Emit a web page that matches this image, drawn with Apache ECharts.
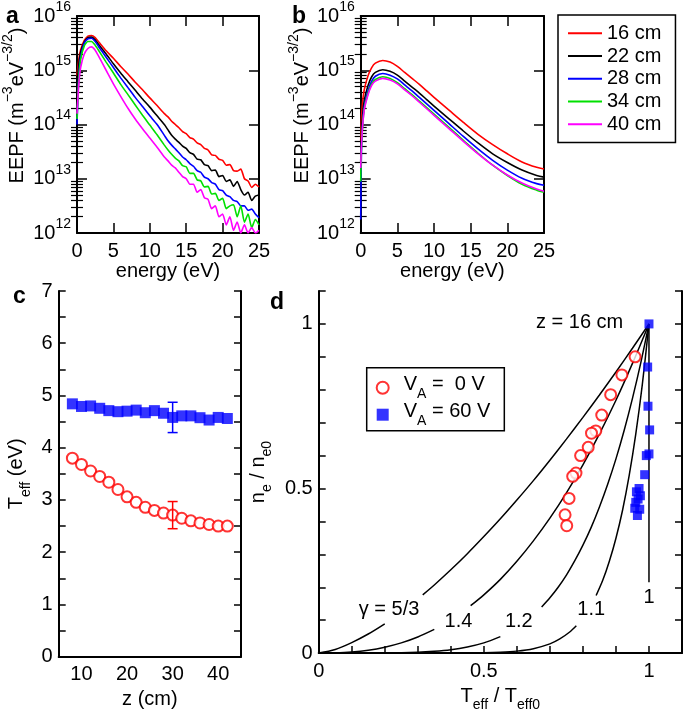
<!DOCTYPE html>
<html><head><meta charset="utf-8">
<script src="https://cdn.jsdelivr.net/npm/echarts@6/dist/echarts.min.js"></script>
<style>html,body{margin:0;padding:0;background:#fff}#c{width:685px;height:717px}</style>
</head><body><div id="c"></div>
<script>
// ---------------- DATA ----------------
const distances = ['16 cm', '22 cm', '28 cm', '34 cm', '40 cm'];
// panel a (V_A = 0 V): energy (eV) and log10 EEPF
const energyA = [0,0.25,0.5,1,1.5,2,2.5,3,4,5,6,7,8,9,10,11,12,12.5,13,13.5,14,14.5,15,15.5,16,16.5,17,17.5,18,18.5,19,19.5,20,20.5,21,21.5,22,22.5,23,23.5,24,24.5,25];
const logEepfA16 = [14.9,15.2,15.38,15.55,15.63,15.64,15.6,15.52,15.36,15.22,15.07,14.93,14.78,14.64,14.49,14.35,14.2,14.14,14.06,14.0,13.94,13.87,13.83,13.76,13.73,13.66,13.63,13.56,13.53,13.44,13.43,13.36,13.34,13.25,13.26,13.15,13.14,13.18,13.0,12.96,12.84,12.9,12.85];
const logEepfA22 = [14.7,15.1,15.33,15.52,15.6,15.61,15.56,15.47,15.3,15.12,14.95,14.79,14.63,14.47,14.32,14.16,14.0,13.9,13.8,13.73,13.67,13.6,13.56,13.48,13.45,13.36,13.35,13.26,13.24,13.15,13.16,13.04,13.06,12.95,12.98,12.86,12.95,12.8,12.7,12.75,12.6,12.68,12.7];
const logEepfA28 = [14.0,14.9,15.25,15.5,15.58,15.59,15.53,15.43,15.24,15.05,14.86,14.68,14.5,14.33,14.16,14.0,13.8,13.7,13.62,13.55,13.48,13.4,13.35,13.28,13.23,13.15,13.12,13.03,13.0,12.93,12.9,12.8,12.78,12.7,12.67,12.6,12.58,12.5,12.5,12.42,12.44,12.35,12.28];
const logEepfA34 = [14.1,14.85,15.2,15.45,15.53,15.53,15.46,15.36,15.15,14.95,14.74,14.55,14.36,14.17,13.99,13.81,13.62,13.53,13.45,13.38,13.33,13.24,13.22,13.1,13.1,12.98,12.96,12.85,12.86,12.72,12.73,12.6,12.64,12.45,12.5,12.52,12.3,12.5,12.2,12.35,12.1,12.25,12.15];
const logEepfA40 = [14.2,14.75,15.05,15.3,15.4,15.43,15.37,15.25,15.0,14.75,14.52,14.3,14.1,13.92,13.75,13.58,13.4,13.33,13.25,13.2,13.12,13.04,13.0,12.9,12.9,12.75,12.8,12.65,12.62,12.45,12.5,12.3,12.35,12.15,12.3,12.05,12.2,12.0,12.15,12.0,12.1,12.0,12.05];
// panel b (V_A = 60 V)
const energyB = [0,0.1,0.25,0.5,1,1.5,2,3,4,5,6,7,8,9,10,12,14,16,18,20,22,24,25];
const logEepfB16 = [13.7,14.1,14.4,14.65,14.9,15.05,15.13,15.18,15.15,15.07,14.96,14.85,14.74,14.62,14.5,14.27,14.04,13.82,13.63,13.46,13.31,13.21,13.18];
const logEepfB22 = [13.3,13.8,14.15,14.45,14.72,14.88,14.96,15.01,14.98,14.91,14.8,14.69,14.58,14.46,14.34,14.11,13.88,13.66,13.46,13.3,13.16,13.06,13.03];
const logEepfB28 = [12.25,13.5,14.0,14.35,14.63,14.8,14.89,14.94,14.91,14.84,14.73,14.62,14.5,14.38,14.26,14.02,13.78,13.55,13.34,13.16,13.01,12.91,12.88];
const logEepfB34 = [12.95,13.55,13.95,14.3,14.58,14.75,14.83,14.88,14.85,14.77,14.66,14.55,14.43,14.31,14.19,13.95,13.71,13.47,13.25,13.06,12.9,12.79,12.75];
const logEepfB40 = [13.2,13.6,13.95,14.28,14.55,14.72,14.8,14.85,14.82,14.75,14.64,14.53,14.41,14.29,14.17,13.93,13.69,13.46,13.25,13.07,12.92,12.81,12.77];
// panel c: T_eff vs z
const zPositions = [8,10,12,14,16,18,20,22,24,26,28,30,32,34,36,38,40,42];
const teffVA0 = [3.80,3.68,3.555,3.45,3.34,3.20,3.06,2.955,2.86,2.80,2.75,2.71,2.65,2.60,2.56,2.53,2.50,2.50];
const teffVA60 = [4.84,4.79,4.80,4.755,4.71,4.69,4.70,4.72,4.67,4.71,4.66,4.58,4.61,4.61,4.575,4.53,4.58,4.56];
const errorZ = 30, errorHalfVA0 = 0.26, errorHalfVA60 = 0.29;
// panel d: normalised density vs normalised temperature (z = 18..42 cm for V_A = 0 V)
const tRatioVA0 = [0.958,0.918,0.884,0.857,0.839,0.826,0.816,0.793,0.779,0.769,0.758,0.746,0.751];
const nRatioVA0 = [0.90,0.845,0.785,0.723,0.675,0.668,0.625,0.60,0.547,0.537,0.47,0.42,0.387];
const tRatioVA60 = [1,0.996,0.997,1.002,1.0,0.992,0.987,0.97,0.962,0.974,0.967,0.96,0.957,0.972,0.965];
const nRatioVA60 = [1,0.869,0.75,0.678,0.605,0.60,0.542,0.50,0.49,0.478,0.468,0.458,0.44,0.437,0.418];
// polytropic curves, each split in two pieces around its label
const g53T1 = [0,0.05,0.1,0.15,0.2],            g53N1 = [0,0.011,0.032,0.058,0.089];
const g53T2 = [0.315,0.35,0.4,0.45,0.5,0.55,0.6,0.65,0.7,0.75,0.8,0.85,0.9,0.95,1.0];
const g53N2 = [0.177,0.207,0.253,0.302,0.354,0.408,0.465,0.524,0.586,0.650,0.716,0.784,0.854,0.926,1.0];
const g14T1 = [0,0.05,0.1,0.15,0.2,0.25,0.3,0.35], g14N1 = [0,0.0006,0.0032,0.0087,0.0179,0.031,0.049,0.072];
const g14T2 = [0.46,0.5,0.55,0.6,0.65,0.7,0.75,0.8,0.85,0.9,0.95,1.0];
const g14N2 = [0.144,0.177,0.224,0.279,0.341,0.410,0.487,0.572,0.666,0.768,0.880,1.0];
const g12T1 = [0,0.1,0.2,0.3,0.35,0.4,0.45,0.5,0.55], g12N1 = [0,0.00001,0.0003,0.0024,0.0053,0.0102,0.0185,0.031,0.050];
const g12T2 = [0.675,0.7,0.725,0.75,0.775,0.8,0.825,0.85,0.875,0.9,0.925,0.95,0.975,1.0];
const g12N2 = [0.140,0.168,0.200,0.237,0.280,0.328,0.382,0.444,0.513,0.590,0.677,0.774,0.881,1.0];
const g11T1 = [0,0.3,0.4,0.5,0.55,0.6,0.65,0.7,0.73,0.76,0.78], g11N1 = [0,0.000006,0.0001,0.001,0.0025,0.006,0.0135,0.028,0.043,0.064,0.083];
const g11T2 = [0.84,0.86,0.88,0.9,0.92,0.94,0.96,0.98,1.0];
const g11N2 = [0.175,0.221,0.279,0.349,0.434,0.539,0.665,0.817,1.0];
const g10T = [1,1], g10N = [0.215,1];
const curveLabels = ['γ = 5/3', '1.4', '1.2', '1.1', '1'];

// ---------------- CHART ----------------
const FONT = '"Liberation Sans", Arial, Helvetica, sans-serif';
const lineColors = ['#ff0000', '#000000', '#0000ff', '#00e000', '#ff00ff'];
const eepfA = [logEepfA16, logEepfA22, logEepfA28, logEepfA34, logEepfA40];
const eepfB = [logEepfB16, logEepfB22, logEepfB28, logEepfB34, logEepfB40];
const pairs = (xs, ys) => xs.map((x, i) => [x, ys[i]]);

const minorLog = [];
for (let n = 12; n < 16; n++) for (let m = 2; m <= 9; m++) minorLog.push(n + Math.log10(m));

const txt = {color: '#000', fontFamily: FONT, fontSize: 20};
const richSup = {
  b: {color: '#000', fontFamily: FONT, fontSize: 20, lineHeight: 26, verticalAlign: 'bottom'},
  s: {color: '#000', fontFamily: FONT, fontSize: 14, lineHeight: 18, verticalAlign: 'top'}
};
const richSub = {
  b: {color: '#000', fontFamily: FONT, fontSize: 20, lineHeight: 26, verticalAlign: 'top'},
  u: {color: '#000', fontFamily: FONT, fontSize: 14, lineHeight: 16, verticalAlign: 'bottom'},
  sp: {width: 10}
};
const axLine = {show: true, onZero: false, lineStyle: {color: '#000', width: 2}};

function energyAxes(gridIndex) {
  return [
    {type: 'value', gridIndex, position: 'bottom', min: 0, max: 25, interval: 5,
     name: 'energy (eV)', nameLocation: 'middle', nameGap: 27, nameTextStyle: txt,
     axisLine: axLine, axisTick: {inside: true, length: 10, lineStyle: {width: 1.5, color: '#000'}},
     axisLabel: Object.assign({margin: 8}, txt), splitLine: {show: false}},
    {type: 'value', gridIndex, position: 'top', min: 0, max: 25, interval: 5,
     axisLine: axLine, axisTick: {inside: true, length: 10, lineStyle: {width: 1.5, color: '#000'}},
     axisLabel: {show: false}, splitLine: {show: false}}
  ];
}
function eepfAxes(gridIndex, nameGap) {
  const tick = {inside: true, length: 10, lineStyle: {width: 1.5, color: '#000'}};
  const minor = {show: true, inside: true, length: 6, customValues: minorLog, lineStyle: {width: 1.2, color: '#000'}};
  return [
    {type: 'log', logBase: 10, gridIndex, position: 'left', min: 1e12, max: 1e16,
     name: '{b|EEPF (m}{s|−3}{b|eV}{s|−3/2}{b|)}', nameLocation: 'middle', nameGap,
     nameTextStyle: {rich: richSup, padding: [0, 0, 0, 38]}, nameRotate: 90,
     axisLine: axLine, axisTick: tick, splitLine: {show: false}, minorTick: {show: false},
     axisLabel: {margin: 6, formatter: v => '{b|10}{s|' + Math.round(Math.log10(v)) + '}', rich: richSup, padding: [0, 0, 6, 0]}},
    {type: 'log', logBase: 10, gridIndex, position: 'right', min: 1e12, max: 1e16,
     axisLine: axLine, axisTick: tick, axisLabel: {show: false}, splitLine: {show: false}},
    {type: 'value', gridIndex, position: 'left', min: 12, max: 16,
     axisLine: {show: false}, axisTick: minor, axisLabel: {show: false}, splitLine: {show: false}},
    {type: 'value', gridIndex, position: 'right', min: 12, max: 16,
     axisLine: {show: false}, axisTick: minor, axisLabel: {show: false}, splitLine: {show: false}}
  ];
}

const series = [];
distances.forEach((d, i) => {
  series.push({type: 'line', name: d, xAxisIndex: 0, yAxisIndex: 0, symbol: 'none', smooth: 0.2,
    data: energyA.map((e, j) => [e, Math.pow(10, eepfA[i][j])]),
    lineStyle: {color: lineColors[i], width: 1.6}, itemStyle: {color: lineColors[i]}, z: 3});
});
distances.forEach((d, i) => {
  series.push({type: 'line', name: d, xAxisIndex: 2, yAxisIndex: 4, symbol: 'none', smooth: 0.3,
    data: energyB.map((e, j) => [e, Math.pow(10, eepfB[i][j])]),
    lineStyle: {color: lineColors[i], width: 1.6}, itemStyle: {color: lineColors[i]}, z: 3});
});

// panel c
function errorBar(color, half, yVals) {
  const idx = zPositions.indexOf(errorZ);
  return {type: 'custom', xAxisIndex: 4, yAxisIndex: 8, z: 5,
    data: [[errorZ, yVals[idx] - half, yVals[idx] + half]],
    renderItem: (params, api) => {
      const p1 = api.coord([api.value(0), api.value(1)]);
      const p2 = api.coord([api.value(0), api.value(2)]);
      const w = 5, st = {stroke: color, lineWidth: 1.5};
      return {type: 'group', children: [
        {type: 'line', shape: {x1: p1[0], y1: p1[1], x2: p2[0], y2: p2[1]}, style: st},
        {type: 'line', shape: {x1: p1[0] - w, y1: p1[1], x2: p1[0] + w, y2: p1[1]}, style: st},
        {type: 'line', shape: {x1: p2[0] - w, y1: p2[1], x2: p2[0] + w, y2: p2[1]}, style: st}
      ]};
    }};
}
series.push({type: 'scatter', name: 'c60', xAxisIndex: 4, yAxisIndex: 8, symbol: 'rect', symbolSize: 11,
  data: pairs(zPositions, teffVA60), itemStyle: {color: '#0000ff'}, z: 4});
series.push({type: 'scatter', name: 'c0', xAxisIndex: 4, yAxisIndex: 8, symbol: 'emptyCircle', symbolSize: 11,
  data: pairs(zPositions, teffVA0), itemStyle: {color: '#ff0000', borderColor: '#ff0000', borderWidth: 1.5}, z: 4});
series.push(errorBar('#0000ff', errorHalfVA60, teffVA60));
series.push(errorBar('#ff0000', errorHalfVA0, teffVA0));

// panel d curves
[[g53T1, g53N1], [g53T2, g53N2], [g14T1, g14N1], [g14T2, g14N2], [g12T1, g12N1], [g12T2, g12N2],
 [g11T1, g11N1], [g11T2, g11N2], [g10T, g10N]].forEach(([xs, ys]) => {
  series.push({type: 'line', xAxisIndex: 5, yAxisIndex: 10, symbol: 'none', smooth: 0.3,
    data: pairs(xs, ys), lineStyle: {color: '#000', width: 1.5}, z: 2, silent: true});
});
const nameVA0 = 'VA0', nameVA60 = 'VA60';
series.push({type: 'scatter', name: nameVA0, xAxisIndex: 5, yAxisIndex: 10, symbol: 'emptyCircle', symbolSize: 11,
  data: pairs(tRatioVA0, nRatioVA0), itemStyle: {color: '#ff0000', borderColor: '#ff0000', borderWidth: 1.5}, z: 4});
series.push({type: 'scatter', name: nameVA60, xAxisIndex: 5, yAxisIndex: 10, symbol: 'rect', symbolSize: 9,
  data: pairs(tRatioVA60, nRatioVA60), itemStyle: {color: '#0000ff'}, z: 5});
// curve labels (text anchors in data coordinates)
const labelStyle = {show: true, position: 'inside', color: '#000', opacity: 1, textBorderWidth: 0,
  textShadowBlur: 0, fontFamily: FONT, fontSize: 20};
series.push({type: 'scatter', xAxisIndex: 5, yAxisIndex: 10, symbolSize: 1,
  itemStyle: {color: '#fff', opacity: 1}, silent: true, z: 1, label: labelStyle,
  emphasis: {disabled: true},
  data: [
    {value: [0.213, 0.131], label: {formatter: curveLabels[0]}},
    {value: [0.423, 0.095], label: {formatter: curveLabels[1]}},
    {value: [0.606, 0.095], label: {formatter: curveLabels[2]}},
    {value: [0.825, 0.131], label: {formatter: curveLabels[3]}},
    {value: [1.0, 0.168], label: {formatter: curveLabels[4]}},
    {value: [0.79, 1.003], label: {formatter: 'z = 16 cm'}}
  ]});

const d01 = v => (Math.abs(v) < 1e-6 ? '0' : Math.abs(v - 0.5) < 1e-6 ? '0.5' : Math.abs(v - 1) < 1e-6 ? '1' : '');
const dTick = {inside: true, length: 7, lineStyle: {width: 1.5, color: '#000'}};

const option = {
  animation: false,
  backgroundColor: '#fff',
  grid: [
    {left: 76, top: 15, width: 183, height: 218},
    {left: 360.7, top: 15, width: 183.3, height: 218},
    {left: 58.7, top: 291, width: 182.3, height: 365.7},
    {left: 318.7, top: 291, width: 365.3, height: 365.7}
  ],
  xAxis: [
    ...energyAxes(0), ...energyAxes(1),
    {type: 'value', gridIndex: 2, position: 'bottom', min: 5, max: 45, interval: 5,
     name: 'z (cm)', nameLocation: 'middle', nameGap: 32, nameTextStyle: txt,
     axisLine: axLine, axisTick: {show: false}, splitLine: {show: false},
     axisLabel: Object.assign({margin: 8, formatter: v => (v % 10 === 0 ? String(v) : '')}, txt)},
    {type: 'value', gridIndex: 3, position: 'bottom', min: 0, max: 1.1, interval: 0.1,
     name: '{b|T}{u|eff}{b| / T}{u|eff0}', nameLocation: 'middle', nameGap: 30, nameTextStyle: {rich: richSub},
     axisLine: axLine, axisTick: dTick, splitLine: {show: false},
     axisLabel: Object.assign({margin: 8, formatter: d01}, txt)}
  ],
  yAxis: [
    ...eepfAxes(0, 50), ...eepfAxes(1, 45),
    {type: 'value', gridIndex: 2, position: 'left', min: 0, max: 7, interval: 1,
     name: '{b|T}{u|eff}{b| (eV)}', nameLocation: 'middle', nameGap: 26, nameRotate: 90, nameTextStyle: {rich: richSub},
     axisLine: axLine, axisTick: {inside: true, length: 7, lineStyle: {width: 1.5, color: '#000'}},
     minorTick: {show: true, splitNumber: 2, length: 7, lineStyle: {width: 1.5, color: '#000'}},
     axisLabel: Object.assign({margin: 6}, txt), splitLine: {show: false}},
    {type: 'value', gridIndex: 2, position: 'right', min: 0, max: 7, interval: 1,
     axisLine: axLine, axisTick: {inside: true, length: 7, lineStyle: {width: 1.5, color: '#000'}},
     minorTick: {show: true, splitNumber: 2, length: 7, lineStyle: {width: 1.5, color: '#000'}},
     axisLabel: {show: false}, splitLine: {show: false}},
    {type: 'value', gridIndex: 3, position: 'left', min: 0, max: 1.1, interval: 0.1,
     name: '{b|n}{u|e}{b| / n}{u|e0}', nameLocation: 'middle', nameGap: 36, nameRotate: 90, nameTextStyle: {rich: richSub},
     axisLine: axLine, axisTick: dTick, splitLine: {show: false},
     axisLabel: Object.assign({margin: 6, formatter: d01}, txt)},
    {type: 'value', gridIndex: 3, position: 'right', min: 0, max: 1.1, interval: 0.1,
     axisLine: axLine, axisTick: dTick, axisLabel: {show: false}, splitLine: {show: false}}
  ],
  legend: [
    {data: distances, orient: 'vertical', left: 558, top: 15, icon: 'rect', itemWidth: 34, itemHeight: 2,
     itemGap: 0, padding: [7, 14, 7, 10], borderColor: '#000', borderWidth: 1.5, backgroundColor: '#fff',
     textStyle: {color: '#000', fontFamily: FONT, fontSize: 20, lineHeight: 22.7}, selectedMode: false},
    {data: [nameVA0, nameVA60], orient: 'vertical', left: 366.7, top: 367.7, itemWidth: 12, itemHeight: 12,
     itemGap: 1, padding: [7, 14, 3, 9], borderColor: '#000', borderWidth: 1.5, backgroundColor: '#fff',
     selectedMode: false,
     formatter: n => (n === nameVA0 ? '{sp|}{b|V}{u|A}{b| =  0 V}' : '{sp|}{b|V}{u|A}{b| = 60 V}'),
     textStyle: {rich: richSub}}
  ],
  graphic: [
    {type: 'text', left: 6, top: 5, style: {text: 'a', font: 'bold 23px ' + FONT, fill: '#000'}},
    {type: 'text', left: 292, top: 5, style: {text: 'b', font: 'bold 23px ' + FONT, fill: '#000'}},
    {type: 'text', left: 13, top: 285, style: {text: 'c', font: 'bold 23px ' + FONT, fill: '#000'}},
    {type: 'text', left: 270, top: 291, style: {text: 'd', font: 'bold 23px ' + FONT, fill: '#000'}}
  ],
  series
};
echarts.init(document.getElementById('c'), null, {renderer: 'canvas'}).setOption(option);
</script></body></html>
